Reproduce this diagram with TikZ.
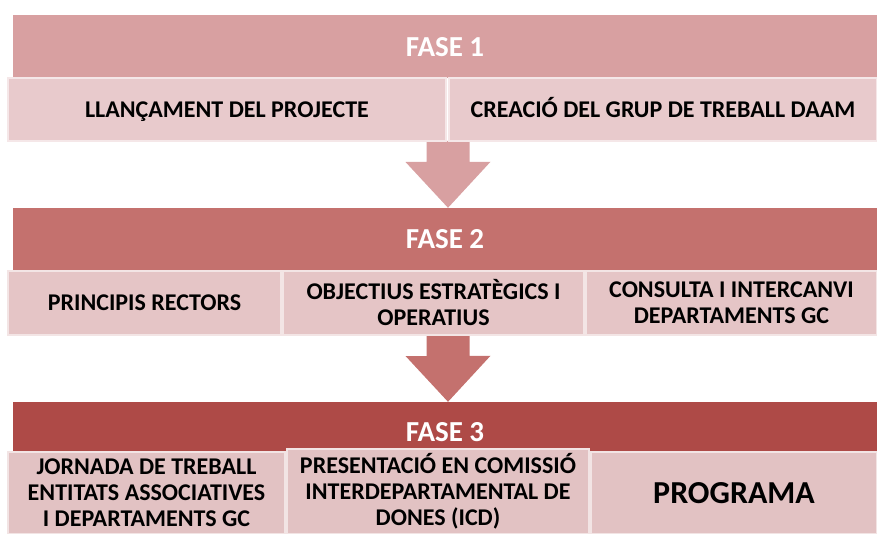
\documentclass[tikz,border=0pt]{standalone}
\usepackage{xcolor}
\usepackage{fontspec}
\setmainfont{Carlito}
\usepackage{tikz}
\usetikzlibrary{calc}

\definecolor{faseA}{HTML}{D8A0A1}
\definecolor{faseB}{HTML}{C4716E}
\definecolor{faseC}{HTML}{AE4A47}
\definecolor{pasA}{HTML}{E8CACC}
\definecolor{pasB}{HTML}{E5C5C6}
\definecolor{pasC}{HTML}{E2C2C3}

\begin{document}
\begin{tikzpicture}[x=1pt,y=-1pt,
							fase/.style={rectangle,inner sep=0pt,fill=#1,text=white,
								font=\bfseries\fontsize{29}{31}\selectfont},
							pas/.style={rectangle,draw=white!55!#1,line width=1.2pt,fill=#1,
								inner sep=2pt,align=center,font=\bfseries\fontsize{24}{26}\selectfont},
							%every node/.style={draw},
							fletxa/.style={fill=#1}]
			\useasboundingbox (0,0) rectangle (877,534);
			% capcaleres de fase
			\node[fase=faseA,minimum width=864pt,minimum height=63pt] (fase1) at (445,47) {FASE 1};
			\node[fase=faseB,minimum width=864pt,minimum height=63pt] (fase2) at (445,239.5) {FASE 2};
			\node[fase=faseC,minimum width=864pt,minimum height=60pt] (fase3) at (445,432) {FASE 3};
			% fletxes
			\coordinate (surt1) at (448,141);
			\coordinate (surt2) at (448,335);
			\fill[fletxa=faseA] ($(surt1)+(-21.5,0)$) -- ++(0,21) -- ++(-21,0) -- (surt1 |- fase2.north)
				-- ++(42.5,-46) -- ++(-21,0) -- ++(0,-21) -- cycle;
			\fill[fletxa=faseB] ($(surt2)+(-21.5,0)$) -- ++(0,21) -- ++(-21,0) -- (surt2 |- fase3.north)
				-- ++(42.5,-46) -- ++(-21,0) -- ++(0,-21) -- cycle;
			% fase 1
			\node[pas=pasA,minimum width=438pt,minimum height=63pt,text height=15.5pt,text depth=0pt] (llanc) at (227,109.5) {LLANÇAMENT DEL PROJECTE};
			\node[pas=pasA,minimum width=428pt,minimum height=63pt,text height=15.5pt,text depth=0pt] (grup) at (663,109.5) {CREACIÓ DEL GRUP DE TREBALL DAAM};
			% fase 2
			\node[pas=pasB,minimum width=273pt,minimum height=64pt] (princ) at (144.5,303) {PRINCIPIS RECTORS};
			\node[pas=pasB,minimum width=301pt,minimum height=64pt] (objec) at (433.5,303) {OBJECTIUS ESTRATÈGICS I\\OPERATIUS};
			\node[pas=pasB,minimum width=291pt,minimum height=64pt] (consu) at (731.5,303) {CONSULTA I INTERCANVI\\DEPARTAMENTS GC};
			% fase 3
			\node[pas=pasC,minimum width=277pt,minimum height=82pt] (jorn) at (146.5,493) {JORNADA DE TREBALL\\ENTITATS ASSOCIATIVES\\I DEPARTAMENTS GC};
			\node[pas=pasC,minimum width=286pt,minimum height=82pt,font=\bfseries\fontsize{32}{34}\selectfont] (progr) at (734,493) {PROGRAMA};
			\node[pas=pasC,minimum width=302pt,minimum height=85pt] (icd) at (438,491.5) {PRESENTACIÓ EN COMISSIÓ\\INTERDEPARTAMENTAL DE\\DONES (ICD)};
		\end{tikzpicture}
\end{document}
